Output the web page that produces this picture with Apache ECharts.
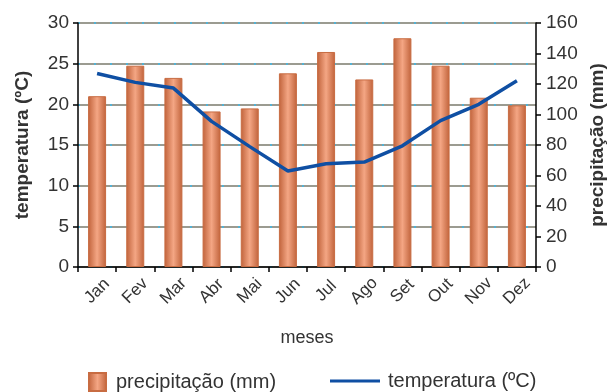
<!DOCTYPE html>
<html>
<head>
<meta charset="utf-8">
<script src="https://cdn.jsdelivr.net/npm/echarts@6/dist/echarts.min.js"></script>
<style>html,body{margin:0;padding:0;background:#fff}#c{width:610px;height:392px}</style>
</head>
<body>
<div id="c"></div>
<script>
const months = ['Jan','Fev','Mar','Abr','Mai','Jun','Jul','Ago','Set','Out','Nov','Dez'];
const precipitacao = [112, 132, 124, 102, 104, 127, 141, 123, 150, 132, 111, 106];
const temperatura = [23.8, 22.7, 22.0, 17.9, 14.8, 11.8, 12.7, 12.9, 14.9, 18.0, 20.0, 22.9];
const tempTicks = [0, 5, 10, 15, 20, 25, 30];
const precTicks = [0, 20, 40, 60, 80, 100, 120, 140, 160];

const font = 'Liberation Sans, Arial, sans-serif';
const chart = echarts.init(document.getElementById('c'), null, {renderer: 'canvas'});
const barGrad = new echarts.graphic.LinearGradient(0, 0, 1, 0, [
  {offset: 0, color: '#c0623a'},
  {offset: 0.5, color: '#f4a684'},
  {offset: 1, color: '#c0623a'}
]);
chart.setOption({
  animation: false,
  textStyle: {fontFamily: font},
  grid: {left: 78, right: 74, top: 23, bottom: 125, containLabel: false, outerBoundsMode: 'none'},
  legend: [
    {
      data: [{name: 'precipitação (mm)', icon: 'rect'}],
      left: 88, top: 372, padding: 0, itemWidth: 17, itemHeight: 18, itemGap: 10,
      textStyle: {fontSize: 20, color: '#333', fontFamily: font, padding: [0, 0, 0, 5]}
    },
    {
      data: [{name: 'temperatura (ºC)', icon: 'path://M0,0H50V3H0Z'}],
      left: 330, top: 371, padding: 0, itemWidth: 50, itemHeight: 3, itemGap: 8,
      textStyle: {fontSize: 20, color: '#333', fontFamily: font, padding: [0, 0, 0, 3]}
    }
  ],
  xAxis: {
    type: 'category', data: months,
    name: 'meses', nameLocation: 'middle', nameGap: 62,
    nameTextStyle: {fontSize: 18, color: '#333', fontFamily: font},
    axisLine: {lineStyle: {color: '#000', width: 1.5}},
    axisTick: {show: true, length: 5, lineStyle: {color: '#000', width: 1.5}},
    axisLabel: {rotate: 45, align: 'center', verticalAlign: 'middle', fontSize: 17, color: '#333', margin: 24, fontFamily: font}
  },
  yAxis: [
    {
      type: 'value', min: tempTicks[0], max: tempTicks[tempTicks.length - 1], interval: 5,
      name: 'temperatura (ºC)', nameLocation: 'middle', nameGap: 46,
      nameTextStyle: {fontSize: 19, fontWeight: 'bold', color: '#333', fontFamily: font},
      axisLine: {show: true, lineStyle: {color: '#000', width: 1.5}},
      axisTick: {show: true, length: 5, lineStyle: {color: '#000', width: 1.5}},
      axisLabel: {fontSize: 19, color: '#333', margin: 9, fontFamily: font},
      splitLine: {show: true, lineStyle: {color: '#7a7a6c', width: 1.5}}
    },
    {
      type: 'value', min: precTicks[0], max: precTicks[precTicks.length - 1], interval: 20,
      position: 'right',
      name: 'precipitação (mm)', nameLocation: 'middle', nameGap: 52,
      nameRotate: 90,
      nameTextStyle: {fontSize: 19, fontWeight: 'bold', color: '#333', fontFamily: font},
      axisLine: {show: true, lineStyle: {color: '#000', width: 1.5}},
      axisTick: {show: true, length: 5, lineStyle: {color: '#000', width: 1.5}},
      axisLabel: {fontSize: 19, color: '#333', margin: 10, fontFamily: font},
      splitLine: {show: false}
    },
    {
      type: 'value', min: tempTicks[0], max: tempTicks[tempTicks.length - 1], interval: 5,
      show: true, position: 'left',
      axisLine: {show: false}, axisTick: {show: false}, axisLabel: {show: false},
      splitLine: {show: true, lineStyle: {color: '#3cb8e8', width: 1.5, type: [2, 14]}}
    }
  ],
  series: [
    {
      name: 'precipitação (mm)', type: 'bar', yAxisIndex: 1, data: precipitacao,
      barWidth: 18,
      itemStyle: {color: barGrad, borderColor: '#c86c42', borderWidth: 1}
    },
    {
      name: 'temperatura (ºC)', type: 'line', yAxisIndex: 0, data: temperatura,
      symbol: 'none', z: 5,
      lineStyle: {color: '#0f4fa3', width: 3.5},
      itemStyle: {color: '#0f4fa3'}
    }
  ]
});
</script>
</body>
</html>
